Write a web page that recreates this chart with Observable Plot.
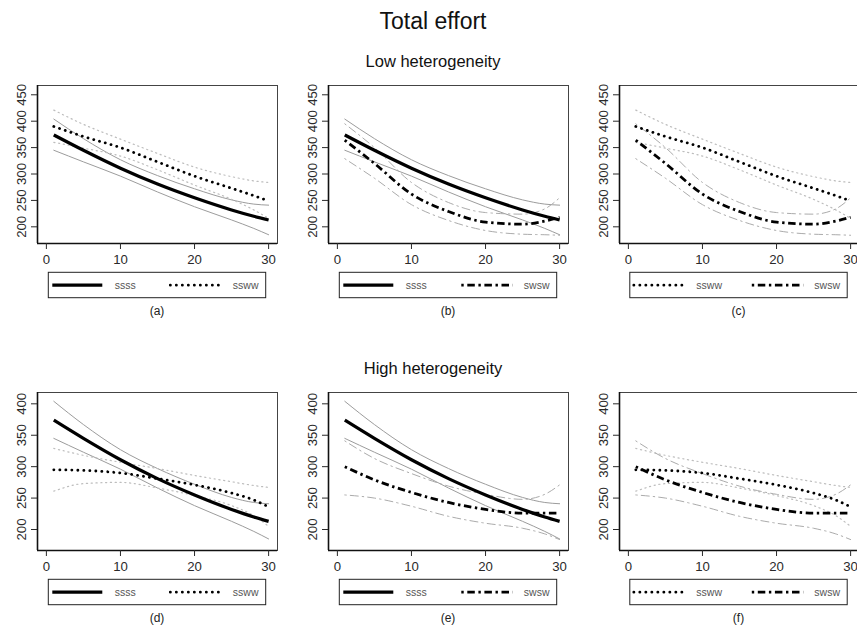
<!DOCTYPE html>
<html><head><meta charset="utf-8">
<script src="https://cdn.jsdelivr.net/npm/d3@7"></script>
<script src="https://cdn.jsdelivr.net/npm/@observablehq/plot@0.6"></script>
<style>
html,body{margin:0;padding:0;background:#fff;overflow:hidden}
#root{position:relative;width:857px;height:627px;overflow:hidden;font-family:"Liberation Sans",Arial,sans-serif;background:#fff}
.pan{position:absolute}
#overlay{position:absolute;left:0;top:0;pointer-events:none}
</style></head><body><div id="root"></div>
<script>
// ---------- data ----------
const xs = [1, 5, 10, 15, 20, 25, 28, 30];
const xTicks = [0, 10, 20, 30];
const yTicksLow = [200, 250, 300, 350, 400, 450];
const yTicksHigh = [200, 250, 300, 350, 400];
const seriesNames = ["ssss", "ssww", "swsw"];
const panelLabels = ["(a)", "(b)", "(c)", "(d)", "(e)", "(f)"];
const rowTitles = ["Low heterogeneity", "High heterogeneity"];
const mainTitle = "Total effort";

// ssss (same in both settings)
const ssssMean  = [374, 345, 311, 281, 255, 232, 220, 213];
const ssssUpper = [404, 367, 327, 297, 272, 251, 243, 241];
const ssssLower = [345, 323, 296, 266, 238, 213, 197, 185];
// low heterogeneity
const sswwLowMean  = [390, 371, 350, 323, 296, 273, 259, 249];
const sswwLowUpper = [421, 394, 366, 339, 313, 295, 287, 284];
const sswwLowLower = [360, 349, 334, 308, 279, 252, 232, 216];
const swswLowMean  = [364, 320, 262, 229, 209, 205, 211, 218];
const swswLowUpper = [395, 350, 284, 246, 227, 224, 234, 255];
const swswLowLower = [329, 292, 242, 212, 193, 186, 185, 184];
// high heterogeneity
const sswwHighMean  = [295, 294, 290, 281, 271, 258, 247, 236];
const sswwHighUpper = [329, 318, 307, 297, 286, 276, 270, 267];
const sswwHighLower = [261, 273, 275, 266, 254, 238, 222, 205];
const swswHighMean  = [300, 279, 259, 243, 232, 226, 226, 226];
const swswHighUpper = [341, 313, 289, 269, 256, 248, 256, 271];
const swswHighLower = [255, 250, 237, 221, 210, 202, 193, 184];

// ---------- styles ----------
const style = {
  ssss: {w: 3.2, dash: null, cap: "butt", bandStroke: "#9c9c9c", bandW: 1, bandDash: null},
  ssww: {w: 2.8, dash: "0.1,5.9", cap: "round", bandStroke: "#bdbdbd", bandW: 1.2, bandDash: "1.2,3.6"},
  swsw: {w: 2.8, dash: "2.4,3.6,7.5,3.6", cap: "butt", bandStroke: "#ababab", bandW: 1, bandDash: "1.5,4,8,4"}
};

const S = {
  low: {
    ssss: {mean: ssssMean, upper: ssssUpper, lower: ssssLower},
    ssww: {mean: sswwLowMean, upper: sswwLowUpper, lower: sswwLowLower},
    swsw: {mean: swswLowMean, upper: swswLowUpper, lower: swswLowLower}
  },
  high: {
    ssss: {mean: ssssMean, upper: ssssUpper, lower: ssssLower},
    ssww: {mean: sswwHighMean, upper: sswwHighUpper, lower: sswwHighLower},
    swsw: {mean: swswHighMean, upper: swswHighUpper, lower: swswHighLower}
  }
};
const pairs = [["ssss", "ssww"], ["ssss", "swsw"], ["ssww", "swsw"]];

// ---------- layout ----------
const colL = [37, 328, 618.5];
const xDomain = [-1.2, 31.2];
const rowTop = [85, 392];
const boxH = 158;
const yDomains = [[168.4, 467.6], [166.6, 418]];
const legTop = [272.3, 579.3];
const labY = [315, 622];
const rowTitleY = [66.5, 373.5];

const root = document.getElementById("root");
const toRows = arr => xs.map((x, i) => ({x, y: arr[i]}));

function makePanel(r, c) {
  const set = r === 0 ? S.low : S.high;
  const names = pairs[c];
  const marks = [];
  for (const n of names) {
    const st = style[n];
    for (const band of [set[n].upper, set[n].lower]) {
      marks.push(Plot.line(toRows(band), {x: "x", y: "y", stroke: st.bandStroke, strokeWidth: st.bandW,
        strokeDasharray: st.bandDash, curve: "monotone-x"}));
    }
  }
  for (const n of names) {
    const st = style[n];
    marks.push(Plot.line(toRows(set[n].mean), {x: "x", y: "y", stroke: "#000", strokeWidth: st.w,
      strokeDasharray: st.dash, strokeLinecap: st.cap, curve: "monotone-x"}));
  }
  marks.push(Plot.frame({stroke: "#444", strokeWidth: 1}));
  marks.push(Plot.ruleX([xDomain[0]], {stroke: "#111", strokeWidth: 1.6}));
  marks.push(Plot.ruleY([yDomains[r][0]], {stroke: "#111", strokeWidth: 1.6}));
  marks.push(Plot.axisX({ticks: xTicks, tickSize: 6, tickPadding: 5, label: null, tickFormat: d => String(d)}));
  marks.push(Plot.axisY({ticks: r === 0 ? yTicksLow : yTicksHigh, tickSize: 6, tickRotate: -90, tickPadding: 6, label: null, tickFormat: d => String(d)}));
  const mt = 10, mb = 35;
  const p = Plot.plot({
    width: 290, height: mt + boxH + mb,
    marginLeft: 37, marginRight: 13, marginTop: mt, marginBottom: mb,
    x: {domain: xDomain, axis: null, label: null},
    y: {domain: yDomains[r], axis: null, label: null},
    style: {background: "transparent", maxWidth: "none", fontSize: "13.2px",
      fontFamily: '"Liberation Sans", Arial, sans-serif', color: "#2a2a2a", overflow: "visible"},
    marks
  });
  const d = document.createElement("div");
  d.className = "pan";
  d.style.left = (colL[c] - 37) + "px";
  d.style.top = (rowTop[r] - mt) + "px";
  d.appendChild(p);
  root.appendChild(d);
}
for (let r = 0; r < 2; r++) for (let c = 0; c < 3; c++) makePanel(r, c);

// ---------- overlay: titles, legends, labels ----------
const NS = "http://www.w3.org/2000/svg";
const ov = document.createElementNS(NS, "svg");
ov.setAttribute("id", "overlay");
ov.setAttribute("width", 857); ov.setAttribute("height", 627);
ov.setAttribute("font-family", '"Liberation Sans", Arial, sans-serif');
root.appendChild(ov);
function el(tag, attrs, text) {
  const e = document.createElementNS(NS, tag);
  for (const k in attrs) if (attrs[k] != null) e.setAttribute(k, attrs[k]);
  if (text != null) e.textContent = text;
  ov.appendChild(e);
  return e;
}
el("text", {x: 433, y: 29, "text-anchor": "middle", "font-size": 23, fill: "#111"}, mainTitle);
for (let r = 0; r < 2; r++) {
  el("text", {x: 433, y: rowTitleY[r], "text-anchor": "middle", "font-size": 16.5, fill: "#111"}, rowTitles[r]);
  for (let c = 0; c < 3; c++) {
    const lx = colL[c] + 11.3, ly = legTop[r];
    el("rect", {x: lx, y: ly, width: 217.4, height: 25.4, fill: "none", stroke: "#222", "stroke-width": 1});
    const names = pairs[c];
    const cy = ly + 12.9;
    [[4, 54, 66.5], [122, 173.5, 184.5]].forEach(([a, b, t], k) => {
      const st = style[names[k]];
      el("line", {x1: lx + a, x2: lx + b, y1: cy, y2: cy, stroke: "#000", "stroke-width": st.w,
        "stroke-dasharray": st.dash, "stroke-linecap": st.cap});
      el("text", {x: lx + t, y: cy + 3.5, "font-size": 10.5, fill: "#555"}, names[k]);
    });
    el("text", {x: colL[c] + 120, y: labY[r], "text-anchor": "middle", "font-size": 12, fill: "#222"}, panelLabels[r * 3 + c]);
  }
}
</script></body></html>
